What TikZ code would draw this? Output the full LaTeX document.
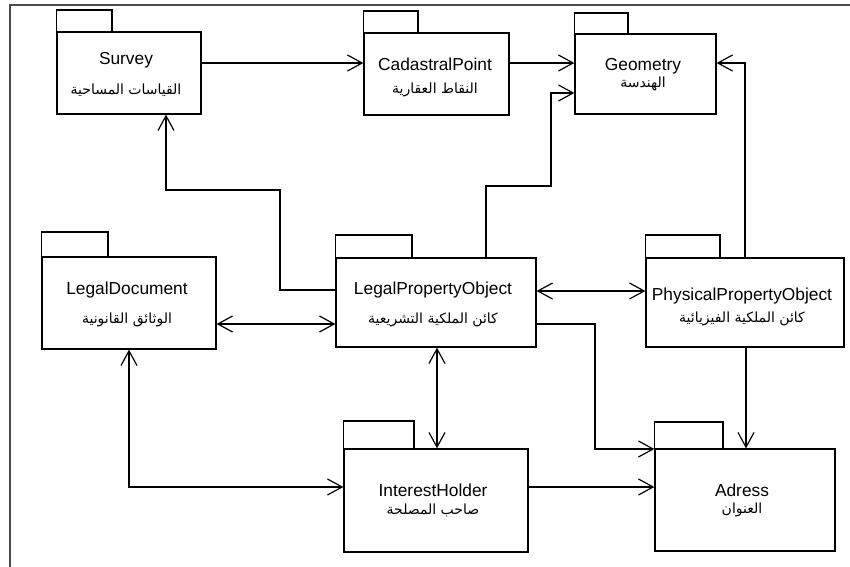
\documentclass[tikz,border=0pt]{standalone}
\usepackage{fontspec}
\setmainfont{Liberation Sans}
\newfontfamily\arabicfont[Script=Arabic]{DejaVu Sans}
\TeXXeTstate=1
\usetikzlibrary{arrows.meta,fit}

\tikzset{
  pkgbody/.style={draw, line width=0.9pt, inner sep=0pt, rectangle},
  pkgtab/.style={draw, line width=0.9pt},
  title/.style={font=\fontsize{13}{15}\selectfont, inner sep=0pt,
                text height=9.3pt, text depth=0pt, anchor=center},
  artitle/.style={font=\arabicfont\fontsize{10.5}{12}\selectfont, inner sep=0pt, anchor=center},
  link/.style={draw=black, line width=0.9pt},
  barb/.tip={Straight Barb[length=11pt,width=12pt,line width=0.9pt]},
  uni/.style={link, -barb},
  inuni/.style={link, barb-},
  bi/.style={link, barb-barb},
  frameline/.style={line width=1.3pt, draw=black!70}
}

% package: name, left, top, right, bottom, tab right, tab top
\newcommand\pkgbox[7]{%
  \node[pkgbody, fit={(#2,#3) (#4,#5)}] (#1) {};
  \draw[pkgtab] (#1.north west) rectangle (#6,#7);
}

\begin{document}
\begin{tikzpicture}[x=0.75pt, y=-0.75pt]
\useasboundingbox (0,0) rectangle (850,567);

% outer frame (top and left edges)
\draw[frameline] (10,567) -- (10,5) -- (850,5);

% packages
\pkgbox{survey}{57}{32}{201}{114}{112}{10}
\pkgbox{cad}{364}{33}{509}{115}{418}{11}
\pkgbox{geo}{575}{34}{716}{114}{628}{13}
\pkgbox{ld}{42}{257}{216}{349}{108}{232}
\pkgbox{lpo}{336}{258}{536}{347}{412}{235}
\pkgbox{ppo}{646}{258}{844}{347}{720}{235}
\pkgbox{ih}{344}{449}{528}{552}{414}{421}
\pkgbox{adr}{655}{449}{835}{551}{723}{422}

% labels
\node[title] (survey-t) at (126,58) {Survey};
\node[artitle] (survey-a) at (126,90) {\beginR القياسات المساحية\endR};
\node[title] (cad-t) at (435,64) {CadastralPoint};
\node[artitle] (cad-a) at (435,90) {\beginR النقاط العقارية\endR};
\node[title] (geo-t) at (643,64) {Geometry};
\node[artitle] (geo-a) at (643,84) {\beginR الهندسة\endR};
\node[title] (ld-t) at (127,288) {LegalDocument};
\node[artitle] (ld-a) at (127,320) {\beginR الوثائق القانونية\endR};
\node[title] (lpo-t) at (433,288) {LegalPropertyObject};
\node[artitle] (lpo-a) at (433,320) {\beginR كائن الملكية التشريعية\endR};
\node[title] (ppo-t) at (742,294) {PhysicalPropertyObject};
\node[artitle] (ppo-a) at (742,319) {\beginR كائن الملكية الفيزيائية\endR};
\node[title] (ih-t) at (433,490) {InterestHolder};
\node[artitle] (ih-a) at (433,510) {\beginR صاحب المصلحة\endR};
\node[title] (adr-t) at (742,490) {Adress};
\node[artitle] (adr-a) at (742,510) {\beginR العنوان\endR};

% connectors
\draw[uni] (survey.east |- 0,63) -- (cad.west |- 0,63);
\draw[uni] (cad.east |- 0,63) -- (geo.west |- 0,63);
\draw[uni] (lpo.north -| 486,0) |- (551,186) |- (geo.west |- 0,93);
\draw[uni] (ppo.north -| 745,0) |- (geo.east |- 0,63);
\draw[uni] (lpo.west |- 0,290) -| (280,190) -| (survey.south -| 166,0);
\draw[bi] (ld.east |- 0,324) -- (lpo.west |- 0,324);
\draw[bi] (lpo.east |- 0,291) -- (ppo.west |- 0,291);
% LegalPropertyObject -> Adress, traced from the arrow end back
\draw[inuni] (adr.west |- 0,449) -- (595,449) |- (lpo.east |- 0,324);
\draw[uni] (ppo.south -| 746,0) -- (adr.north -| 746,0);
\draw[bi] (lpo.south -| 437,0) -- (ih.north -| 437,0);
\draw[bi] (ld.south -| 129,0) |- (ih.west |- 0,487);
\draw[uni] (ih.east |- 0,487) -- (adr.west |- 0,487);
\end{tikzpicture}
\end{document}
